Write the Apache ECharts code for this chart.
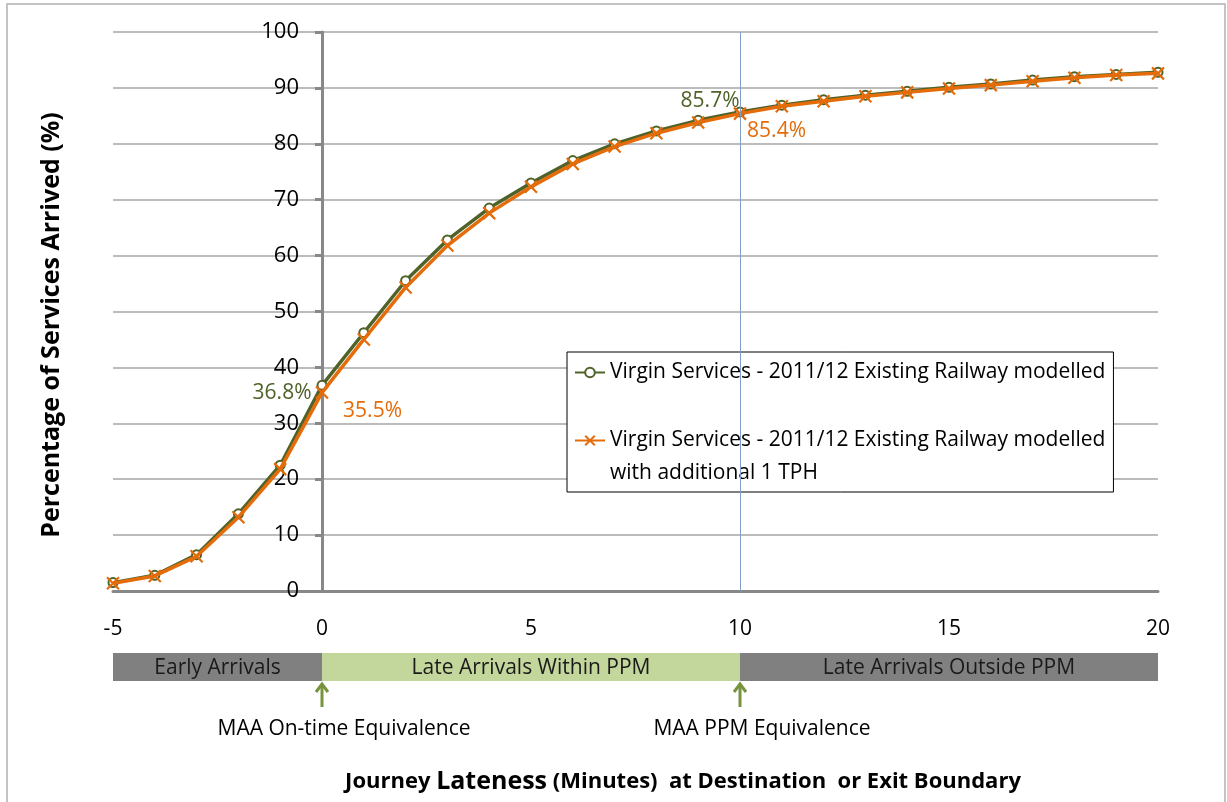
<!DOCTYPE html>
<html>
<head>
<meta charset="utf-8">
<script src="https://cdn.jsdelivr.net/npm/echarts@6/dist/echarts.min.js"></script>
<style>
html,body{margin:0;padding:0;background:#fff;}
#chart{width:1227px;height:802px;}
</style>
</head>
<body>
<div id="chart"></div>
<script>
// ---- data ----
const lateness = [-5,-4,-3,-2,-1,0,1,2,3,4,5,6,7,8,9,10,11,12,13,14,15,16,17,18,19,20];
const virgin = [1.5,2.8,6.5,13.8,22.5,36.8,46.2,55.5,62.8,68.5,73.0,77.0,80.0,82.3,84.2,85.7,86.9,87.9,88.7,89.4,90.1,90.7,91.4,92.0,92.4,92.8];
const virginTPH = [1.4,2.7,6.2,13.2,21.8,35.5,45.0,54.3,61.8,67.6,72.3,76.4,79.5,81.9,83.8,85.4,86.7,87.6,88.5,89.2,89.9,90.5,91.2,91.8,92.3,92.6];
const seriesNames = ['Virgin Services - 2011/12 Existing Railway modelled',
  'Virgin Services - 2011/12 Existing Railway modelled\nwith additional 1 TPH'];
const xTicks = [-5,0,5,10,15,20];
const yTicks = [0,10,20,30,40,50,60,70,80,90,100];
const bands = [[-5,0,'Early Arrivals'],[0,10,'Late Arrivals Within PPM'],[10,20,'Late Arrivals Outside PPM']];
const markers = [[0,'MAA On-time Equivalence'],[10,'MAA PPM Equivalence']];
const ppmLine = 10;
const labelledX = [0,10];
const xTitleParts = ['Journey ', 'Lateness', ' (Minutes)  at Destination  or Exit Boundary'];
const yTitle = 'Percentage of Services Arrived (%)';

// ---- styles ----
const FONT = '"Open Sans", Lato, sans-serif';
const GREEN = '#4f6228', ORANGE = '#e46c0a', ARROW = '#77933c';
const bandColors = ['#808080','#c3d69b','#808080'];
const greenLabelCfg = {0:{position:'left',offset:[0,8]},10:{position:'left',offset:[10,-11]}};
const orangeLabelCfg = {0:{position:'right',offset:[9,18]},10:{position:'right',offset:[-5,17]}};
const FS = 21;

function buildData(vals, color, cfg){
  return lateness.map((x,i)=>{
    const d = {value:[x, vals[i]]};
    if (labelledX.indexOf(x) >= 0) {
      d.label = Object.assign({show:true, color:color, fontSize:21, fontFamily:FONT,
        formatter: v => v.value[1].toFixed(1) + '%'}, cfg[x]);
    }
    return d;
  });
}

const chart = echarts.init(document.getElementById('chart'));
const L = 33;
chart.setOption({
  animation:false,
  backgroundColor:'#fff',
  textStyle:{fontFamily:FONT},
  grid:[
    {left:113, right:69, top:32, bottom:211},
    {left:113, right:69, top:653, height:28}
  ],
  xAxis:[
    {type:'value', gridIndex:0, min:xTicks[0], max:xTicks[xTicks.length-1], interval:5,
     axisLine:{onZero:true, lineStyle:{color:'#888', width:3}},
     axisTick:{show:false},
     axisLabel:{color:'#000', fontSize:21, fontFamily:FONT, margin:28},
     splitLine:{show:false}},
    {type:'value', gridIndex:1, min:-5, max:20, show:false}
  ],
  yAxis:[
    {type:'value', gridIndex:0, min:yTicks[0], max:yTicks[yTicks.length-1], interval:10,
     axisLine:{show:true, onZero:true, lineStyle:{color:'#888', width:3}},
     axisTick:{show:true, length:7, lineStyle:{color:'#888', width:3}},
     axisLabel:{color:'#000', fontSize:22, fontFamily:FONT, margin:-186},
     splitLine:{show:true, lineStyle:{color:'#a6a6a6', width:1.5}}},
    {type:'value', gridIndex:1, min:0, max:1, show:false}
  ],
  legend:{
    left:567, top:352, orient:'vertical',
    backgroundColor:'#fff', borderColor:'#000', borderWidth:1,
    padding:[4,8,2,7], itemGap:2, itemWidth:30, itemHeight:12,
    textStyle:{fontSize:FS, fontFamily:FONT, color:'#000', lineHeight:L},
    formatter: name => name === seriesNames[1] ? '\n' + name : name,
    data:[seriesNames[0], seriesNames[1]]
  },
  graphic:[
    {type:'rect', shape:{x:7, y:4, width:1218, height:820},
     style:{fill:'none', stroke:'#c4c4c4', lineWidth:2}, silent:true},
    {type:'text', x:683, y:782,
     style:{align:'center', verticalAlign:'middle',
       rich:{a:{fontSize:22, fontWeight:'bold', fontFamily:FONT, fill:'#000'},
             b:{fontSize:25, fontWeight:'bold', fontFamily:FONT, fill:'#000'}},
       text:'{a|' + xTitleParts[0] + '}{b|' + xTitleParts[1] + '}{a|' + xTitleParts[2] + '}'}},
    {type:'text', rotation:Math.PI/2, x:52, y:325,
     style:{text:yTitle, align:'center', verticalAlign:'middle',
       fontSize:25, fontWeight:'bold', fontFamily:FONT, fill:'#000'}}
  ],
  series:[
    {name:seriesNames[0], type:'line', xAxisIndex:0, yAxisIndex:0,
     data:buildData(virgin, GREEN, greenLabelCfg),
     symbol:'circle', symbolSize:9, showAllSymbol:true,
     lineStyle:{color:GREEN, width:3.5},
     itemStyle:{color:'#fff', borderColor:GREEN, borderWidth:2},
     z:3,
     markLine:{silent:true, symbol:'none', label:{show:false},
       lineStyle:{color:'#7f9fc8', width:1, type:'solid'},
       data:[{xAxis:ppmLine}]}
    },
    {name:seriesNames[1], type:'line', xAxisIndex:0, yAxisIndex:0,
     data:buildData(virginTPH, ORANGE, orangeLabelCfg),
     symbol:'path://M0,0L10,10M10,0L0,10', symbolSize:12, showAllSymbol:true,
     lineStyle:{color:ORANGE, width:3.5},
     itemStyle:{color:ORANGE, borderColor:ORANGE, borderWidth:2.2},
     z:4},
    {type:'custom', xAxisIndex:1, yAxisIndex:1, silent:true,
     data:bands.map(b=>[b[0],b[1]]),
     encode:{x:[0,1]},
     renderItem:function(params, api){
       const p0 = api.coord([api.value(0), 1]);
       const p1 = api.coord([api.value(1), 0]);
       return {type:'group', children:[
         {type:'rect', shape:{x:p0[0], y:p0[1], width:p1[0]-p0[0], height:p1[1]-p0[1]},
          style:{fill:bandColors[params.dataIndex]}},
         {type:'text', style:{text:bands[params.dataIndex][2], x:(p0[0]+p1[0])/2, y:(p0[1]+p1[1])/2+1,
          align:'center', verticalAlign:'middle', fontSize:FS, fontFamily:FONT, fill:'#1a1a1a'}}
       ]};
     }},
    {type:'custom', xAxisIndex:1, yAxisIndex:1, silent:true,
     data:markers.map(m=>[m[0],0]),
     encode:{x:0},
     renderItem:function(params, api){
       const p = api.coord([api.value(0), 0]);
       const x = p[0], y = p[1];
       return {type:'group', children:[
         {type:'line', shape:{x1:x, y1:y+26, x2:x, y2:y+3}, style:{stroke:ARROW, lineWidth:3}},
         {type:'polyline', shape:{points:[[x-6,y+11],[x,y+3],[x+6,y+11]]}, style:{stroke:ARROW, lineWidth:3, fill:'none'}},
         {type:'text', style:{text:markers[params.dataIndex][1], x:x+22, y:y+48,
          align:'center', verticalAlign:'middle', fontSize:FS, fontFamily:FONT, fill:'#000'}}
       ]};
     }}
  ]
});
</script>
</body>
</html>
